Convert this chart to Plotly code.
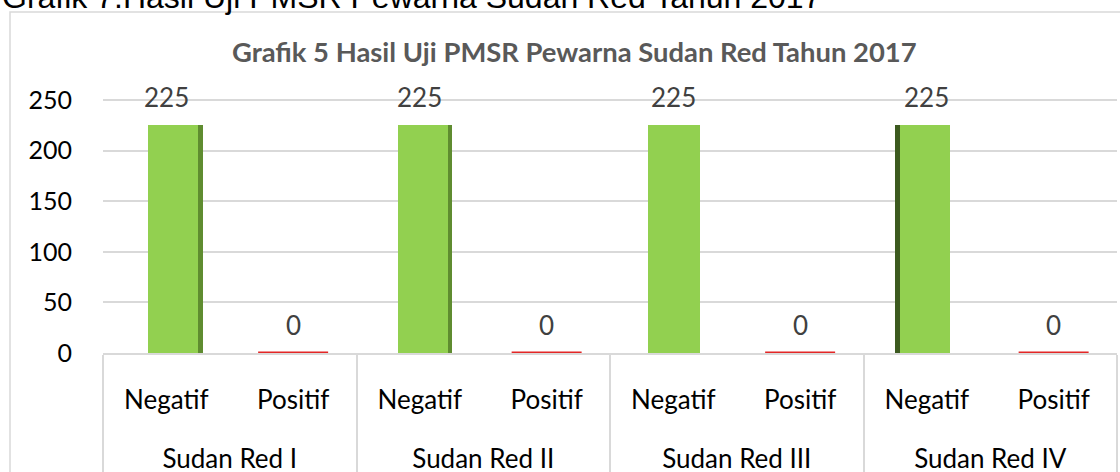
import plotly.graph_objects as go

# ---- data ----
groups = ["Sudan Red I", "Sudan Red II", "Sudan Red III", "Sudan Red IV"]
results = ["Negatif", "Positif"]
negatif = [225, 225, 225, 225]
positif = [0, 0, 0, 0]
y_ticks = [0, 50, 100, 150, 200, 250]
title_text = "Grafik 5 Hasil Uji PMSR Pewarna Sudan Red Tahun 2017"
caption_text = "Grafik 7.Hasil Uji PMSR Pewarna Sudan Red Tahun 2017"

W, H = 1120, 472
ML, MR, MT, MB = 103, 3, 98, 119
PW = W - ML - MR
PH = H - MT - MB

def px_x(p):
    return (p - ML) / PW

def px_y(p):
    return 1 + (MT - p) / PH

FONT = "Lato"

# display labels: outer labels get an empty first line, inner labels get
# invisible padding so the two label rows sit as far apart as in the reference
PAD = "<span style='font-size:38px'>&nbsp;</span>"
group_labels = ["<br>" + g for g in groups]
result_labels = [PAD + r + PAD for r in results]
neg_x = [group_labels, [result_labels[0]] * len(groups)]
pos_x = [group_labels, [result_labels[1]] * len(groups)]
n_cat = len(groups) * len(results)

# perspective styling of the pseudo-3D bars (category units)
front_offset = [-0.145, -0.174, -0.2, -0.213]
front_width = [0.394, 0.394, 0.41, 0.394]
side_offset = [0.249, 0.22, 0.21, -0.253]
side_width = [0.04, 0.032, 0.01, 0.04]
side_color = ["#5f8c30", "#5f8c30", "rgba(0,0,0,0)", "#3c5a1f"]

fig = go.Figure()

# green front faces
fig.add_trace(go.Bar(
    x=neg_x, y=negatif, width=front_width, offset=front_offset,
    marker=dict(color="#92d050", line=dict(width=0)),
    showlegend=False, hoverinfo="skip",
))
# 3D side faces of the green bars
fig.add_trace(go.Bar(
    x=neg_x, y=negatif, width=side_width, offset=side_offset,
    marker=dict(color=side_color, line=dict(width=0)),
    showlegend=False, hoverinfo="skip",
))
# red zero bars (flat slivers)
fig.add_trace(go.Scatter(
    x=pos_x, y=positif, mode="markers",
    marker=dict(symbol="line-ew", size=50, line=dict(color="#e32626", width=3)),
    cliponaxis=False, showlegend=False, hoverinfo="skip",
))

# value labels
for g, v in zip(group_labels, negatif):
    fig.add_annotation(x=[g, result_labels[0]], y=v, text=str(v), showarrow=False,
                       yshift=28, yanchor="middle",
                       font=dict(family=FONT, size=26, color="#404040"))
for g, v in zip(group_labels, positif):
    fig.add_annotation(x=[g, result_labels[1]], y=v, text=str(v), showarrow=False,
                       yshift=28, yanchor="middle",
                       font=dict(family=FONT, size=26, color="#404040"))

# chart title
fig.add_annotation(xref="paper", yref="paper", x=px_x(574), y=px_y(52),
                   text="<b>" + title_text + "</b>", showarrow=False,
                   xanchor="center", yanchor="middle",
                   font=dict(family=FONT, size=27.4, color="#595959"))
# cut-off document caption
fig.add_annotation(xref="paper", yref="paper", x=px_x(0), y=px_y(-3),
                   text=caption_text, showarrow=False,
                   xanchor="left", yanchor="middle",
                   font=dict(family="Liberation Sans, Arial", size=32, color="#000000"))

# outer chart frame
fig.add_shape(type="rect", xref="paper", yref="paper",
              x0=px_x(10), x1=px_x(1135), y0=px_y(495), y1=px_y(12),
              line=dict(color="#d9d9d9", width=1.5), fillcolor="rgba(0,0,0,0)",
              layer="below")

fig.update_layout(
    width=W, height=H,
    margin=dict(l=ML, r=MR, t=MT, b=MB, pad=0, autoexpand=False),
    paper_bgcolor="white", plot_bgcolor="white",
    barmode="overlay", bargap=0,
    showlegend=False,
    font=dict(family=FONT, color="#000000"),
)
fig.update_xaxes(
    type="multicategory", automargin=False,
    range=[-0.5, n_cat - 0.5],
    showgrid=False, showline=True, linecolor="#d9d9d9", linewidth=1.5,
    ticks="", showdividers=True, dividercolor="#d9d9d9", dividerwidth=1.5,
    ticklabelstandoff=23,
    tickfont=dict(family=FONT, size=26, color="#000000"),
)
fig.update_yaxes(
    automargin=False,
    range=[0, 252], tickvals=y_ticks, ticktext=[str(t) for t in y_ticks],
    showgrid=True, gridcolor="#d9d9d9", gridwidth=1.5,
    zeroline=False, showline=False, ticks="",
    ticklabelstandoff=30,
    tickfont=dict(family=FONT, size=25, color="#000000"),
)

fig.write_html(
    "out.html",
    config={"displayModeBar": False},
    post_script="document.body.style.margin='0';document.body.style.overflow='hidden';",
)
